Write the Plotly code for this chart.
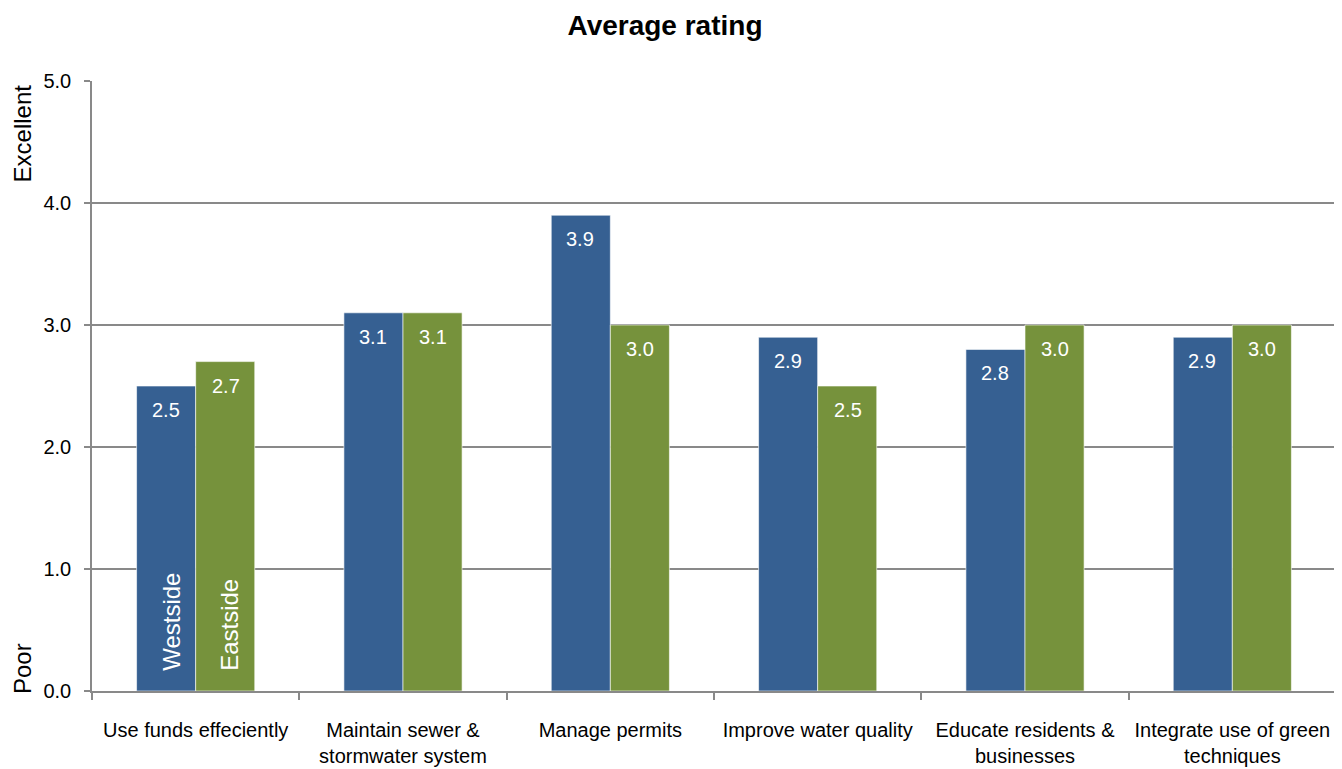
import plotly.graph_objects as go

categories = [
    "Use funds effeciently",
    "Maintain sewer &<br>stormwater system",
    "Manage permits",
    "Improve water quality",
    "Educate residents &<br>businesses",
    "Integrate use of green<br>techniques",
]
westside = [2.5, 3.1, 3.9, 2.9, 2.8, 2.9]
eastside = [2.7, 3.1, 3.0, 2.5, 3.0, 3.0]
y_ticks = [0, 1, 2, 3, 4, 5]

BLUE = "#366092"
GREEN = "#76923C"
GRID = "#898989"
FONT = "Liberation Sans, Arial, sans-serif"

fig = go.Figure()
series = [("Westside", westside, BLUE, -0.145), ("Eastside", eastside, GREEN, 0.145)]
for name, vals, col, off in series:
    fig.add_trace(go.Bar(
        name=name, x=categories, y=vals,
        marker=dict(color=col, line=dict(color="rgba(255,255,255,0.6)", width=1)),
    ))
    # value labels a little below the top of each bar
    for i, v in enumerate(vals):
        fig.add_annotation(x=i + off, y=v, xref="x", yref="y", text=f"{v:.1f}",
                           showarrow=False, yanchor="top", yshift=-11,
                           font=dict(color="white", size=20, family=FONT))

# series names written inside the first pair of bars
for name, off in [("Westside", -0.12), ("Eastside", 0.16)]:
    fig.add_annotation(x=off, y=0, xref="x", yref="y", text=name, textangle=-90,
                       showarrow=False, yanchor="bottom", yshift=18,
                       font=dict(color="white", size=24, family=FONT))

# scale end labels on the left
fig.add_annotation(x=0, y=4.57, xref="paper", yref="y", text="Excellent", textangle=-90,
                   showarrow=False, xanchor="center", xshift=-70,
                   font=dict(color="black", size=24, family=FONT))
fig.add_annotation(x=0, y=0.18, xref="paper", yref="y", text="Poor", textangle=-90,
                   showarrow=False, xanchor="center", xshift=-70,
                   font=dict(color="black", size=24, family=FONT))

# page body has an 8px margin, so the figure is a bit smaller than the window
fig.update_layout(
    width=1334, height=761,
    margin=dict(l=84, r=6, t=73, b=78, autoexpand=False),
    paper_bgcolor="white", plot_bgcolor="white",
    barmode="group", bargap=0.43, bargroupgap=0,
    showlegend=False,
    title=dict(text="<b>Average rating</b>", x=0.4925, xanchor="center",
               y=0.978, yanchor="middle", yref="container",
               font=dict(size=28, color="black", family=FONT)),
    font=dict(family=FONT, color="black"),
)
fig.update_xaxes(
    tickson="boundaries", ticks="outside", ticklen=7, tickcolor=GRID, tickwidth=1.5,
    showline=True, linecolor=GRID, linewidth=1.5, showgrid=False,
    tickfont=dict(size=20, color="black", family=FONT), ticklabelstandoff=20,
    automargin=False,
)
fig.update_yaxes(
    range=[0, 5], tickvals=y_ticks, tickformat=".1f",
    ticks="outside", ticklen=6, tickcolor=GRID, tickwidth=1.5,
    showline=True, linecolor=GRID, linewidth=1.5,
    showgrid=True, gridcolor=GRID, gridwidth=1.5, zeroline=False,
    tickfont=dict(size=20, color="black", family=FONT), ticklabelstandoff=9,
    automargin=False,
)

fig.write_html("out.html")
